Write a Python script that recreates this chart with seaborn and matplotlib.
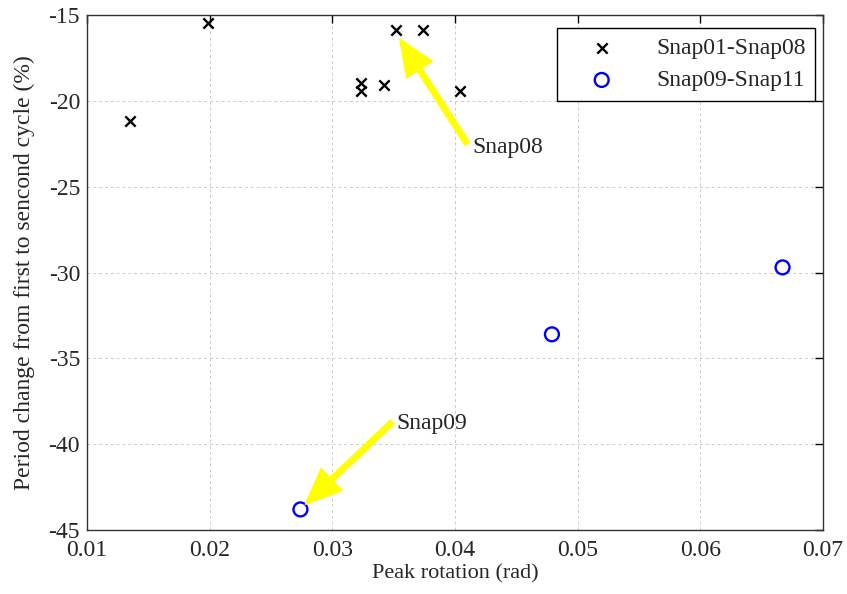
import matplotlib
matplotlib.use("Agg")
import matplotlib.pyplot as plt
import seaborn as sns
import pandas as pd

sns.set_style("white")
plt.rcParams['font.family'] = ['Liberation Serif', 'DejaVu Serif']
plt.rcParams['mathtext.fontset'] = 'stix'

# Data
snap01_08_rot = [0.0135, 0.0199, 0.0323, 0.0323, 0.0342, 0.0352, 0.0374, 0.0404]
snap01_08_chg = [-21.2, -15.45, -18.95, -19.4, -19.05, -15.9, -15.85, -19.45]
snap09_11_rot = [0.0274, 0.0479, 0.0667]
snap09_11_chg = [-43.8, -33.6, -29.7]
xticks = [0.01, 0.02, 0.03, 0.04, 0.05, 0.06, 0.07]
yticks = [-45, -40, -35, -30, -25, -20, -15]
xlabel = "Peak rotation (rad)"
ylabel = "Period change from first to sencond cycle (%)"
labels = ["Snap01-Snap08", "Snap09-Snap11"]

df1 = pd.DataFrame({"rot": snap01_08_rot, "chg": snap01_08_chg})
df2 = pd.DataFrame({"rot": snap09_11_rot, "chg": snap09_11_chg})

fig = plt.figure(figsize=(8.47, 5.94), dpi=100)
ax = fig.add_axes([0.1027, 0.1077, 0.8690, 0.8670])

sns.scatterplot(data=df1, x="rot", y="chg", marker="x", color="black", s=55,
                linewidth=1.7, label=labels[0], ax=ax, zorder=3)
sns.scatterplot(data=df2, x="rot", y="chg", marker="o", facecolor="none",
                edgecolor="blue", s=100, linewidth=1.7, label=labels[1], ax=ax, zorder=3)

ax.set_xlim(0.01, 0.07)
ax.set_ylim(-45, -15)
ax.set_xticks(xticks)
ax.set_yticks(yticks)
ax.set_xticklabels([f"{t:.2f}" for t in xticks])
ax.set_yticklabels([str(t) for t in yticks])
ax.tick_params(direction="in", length=6, width=1, top=True, right=True,
               labelsize=17, color="black")
ax.tick_params(axis="x", pad=7.5)
ax.tick_params(axis="y", pad=5)
ax.grid(True, linestyle=(0, (3, 3)), color="#cccccc", linewidth=0.7)
for sp in ax.spines.values():
    sp.set_color("#333333")
    sp.set_linewidth(1.0)
ax.set_xlabel(xlabel, fontsize=16, labelpad=2)
ax.set_ylabel(ylabel, fontsize=17, labelpad=10)

leg = ax.legend(loc="upper right", bbox_to_anchor=(0.989, 0.9748),
                fontsize=17, frameon=True, fancybox=False,
                edgecolor="black", framealpha=1, borderpad=0.4,
                handlelength=3.0, handletextpad=0.8, labelspacing=0.45,
                borderaxespad=0)
leg.get_frame().set_linewidth(1.0)

arrow = dict(facecolor="yellow", edgecolor="yellow", width=4, headwidth=22,
             headlength=26, shrink=0)
ax.annotate("", xy=(0.0355, -16.4), xytext=(0.0410, -22.5), arrowprops=arrow)
ax.text(0.0414, -22.7, "Snap08", fontsize=17, va="center", ha="left")
ax.annotate("", xy=(0.0278, -43.5), xytext=(0.0349, -38.7), arrowprops=arrow)
ax.text(0.0352, -38.8, "Snap09", fontsize=17, va="center", ha="left")

fig.savefig("out.png", dpi=100)
